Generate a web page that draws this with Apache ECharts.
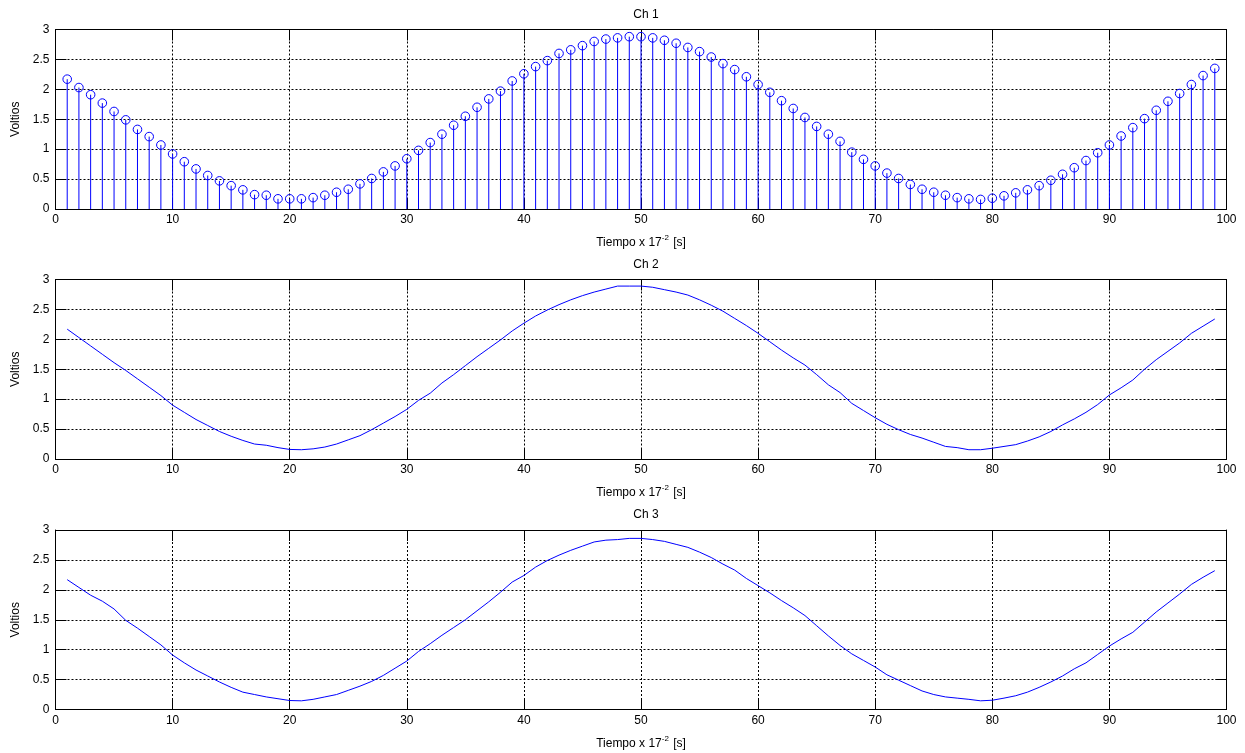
<!DOCTYPE html>
<html>
<head>
<meta charset="utf-8">
<script src="https://cdn.jsdelivr.net/npm/echarts@6/dist/echarts.min.js"></script>
<style>
  html, body { margin: 0; padding: 0; background: #ffffff; }
  #chart { width: 1245px; height: 753px; }
</style>
</head>
<body>
<div id="chart"></div>
<script>
// Sample index (1..99) shared by the three channels
const samples = Array.from({ length: 99 }, (_, i) => i + 1);

// Channel 1 readings (V)
const ch1 = [
  2.17, 2.03, 1.91, 1.77, 1.63, 1.49, 1.33, 1.21, 1.07, 0.92,
  0.79, 0.67, 0.56, 0.47, 0.39, 0.32, 0.24, 0.23, 0.17, 0.17,
  0.17, 0.19, 0.23, 0.28, 0.33, 0.42, 0.51, 0.62, 0.72, 0.84,
  0.98, 1.11, 1.25, 1.40, 1.55, 1.70, 1.84, 1.97, 2.14, 2.26,
  2.38, 2.48, 2.60, 2.66, 2.73, 2.80, 2.84, 2.86, 2.88, 2.88,
  2.86, 2.82, 2.77, 2.70, 2.63, 2.54, 2.43, 2.33, 2.21, 2.08,
  1.95, 1.81, 1.68, 1.53, 1.38, 1.25, 1.13, 0.95, 0.83, 0.72,
  0.60, 0.51, 0.41, 0.33, 0.28, 0.23, 0.19, 0.17, 0.16, 0.18,
  0.22, 0.27, 0.32, 0.39, 0.48, 0.58, 0.69, 0.81, 0.94, 1.07,
  1.22, 1.36, 1.51, 1.65, 1.80, 1.93, 2.08, 2.23, 2.35
];

// Channel 2 readings (V)
const ch2 = [
  2.17, 2.03, 1.89, 1.75, 1.61, 1.48, 1.34, 1.20, 1.06, 0.90,
  0.78, 0.66, 0.56, 0.46, 0.38, 0.31, 0.25, 0.23, 0.19, 0.16,
  0.155, 0.17, 0.20, 0.25, 0.32, 0.39, 0.49, 0.60, 0.71, 0.83,
  0.98, 1.10, 1.27, 1.41, 1.56, 1.71, 1.85, 1.99, 2.14, 2.27,
  2.39, 2.49, 2.58, 2.66, 2.73, 2.79, 2.84, 2.89, 2.89, 2.89,
  2.87, 2.83, 2.79, 2.74, 2.66, 2.57, 2.47, 2.35, 2.23, 2.10,
  1.96, 1.82, 1.69, 1.57, 1.41, 1.24, 1.11, 0.93, 0.81, 0.69,
  0.58, 0.49, 0.41, 0.35, 0.28, 0.21, 0.19, 0.155, 0.155, 0.18,
  0.21, 0.24, 0.30, 0.37, 0.46, 0.57, 0.67, 0.78, 0.91, 1.07,
  1.19, 1.32, 1.50, 1.66, 1.80, 1.94, 2.10, 2.22, 2.34
];

// Channel 3 readings (V)
const ch3 = [
  2.17, 2.04, 1.91, 1.81, 1.68, 1.49, 1.36, 1.22, 1.08, 0.91,
  0.78, 0.66, 0.56, 0.46, 0.37, 0.29, 0.25, 0.21, 0.18, 0.15,
  0.145, 0.17, 0.21, 0.25, 0.32, 0.39, 0.47, 0.57, 0.69, 0.81,
  0.97, 1.10, 1.24, 1.37, 1.50, 1.65, 1.80, 1.96, 2.13, 2.24,
  2.38, 2.49, 2.58, 2.66, 2.73, 2.80, 2.83, 2.84, 2.86, 2.86,
  2.84, 2.81, 2.76, 2.71, 2.63, 2.54, 2.43, 2.33, 2.19, 2.07,
  1.95, 1.82, 1.70, 1.57, 1.40, 1.23, 1.07, 0.93, 0.82, 0.71,
  0.58, 0.49, 0.40, 0.31, 0.25, 0.21, 0.19, 0.17, 0.145, 0.155,
  0.19, 0.23, 0.29, 0.37, 0.46, 0.56, 0.68, 0.78, 0.92, 1.06,
  1.18, 1.29, 1.46, 1.63, 1.78, 1.93, 2.09, 2.21, 2.32
];

const panelTitles = ['Ch 1', 'Ch 2', 'Ch 3'];
const yTickLabels = ['0', '0.5', '1', '1.5', '2', '2.5', '3'];

const FONT = '"Liberation Sans", Arial, Helvetica, sans-serif';
const BLUE = '#0000ff';
const panelTops = [29.5, 279.5, 530];
const panelHeight = 179.5;
const gridDash = [2, 2];

const chart = echarts.init(document.getElementById('chart'), null, { renderer: 'canvas' });

const grids = [], xAxes = [], yAxes = [], titles = [];

panelTops.forEach((top, i) => {
  grids.push({ left: 55.5, right: 18.5, top: top, height: panelHeight, containLabel: false });

  titles.push({
    text: panelTitles[i],
    left: 641, top: top - 26, textAlign: 'center',
    textStyle: { fontFamily: FONT, fontSize: 12, fontWeight: 'normal', color: '#000' }
  });

  const boxLine = { show: true, onZero: false, lineStyle: { color: '#000', width: 1 } };
  const tick = { show: true, inside: true, length: 11, lineStyle: { color: '#000', width: 1 } };

  xAxes.push({
    gridIndex: i, type: 'value', position: 'bottom',
    min: 0, max: 100, interval: 10,
    axisLine: boxLine, axisTick: tick,
    axisLabel: { color: '#000', fontFamily: FONT, fontSize: 12, margin: 5 },
    splitLine: { show: true, lineStyle: { color: '#000', type: gridDash, width: 1 } },
    name: '{a|Tiempo x 17}{s|-2}{a| [s]}',
    nameLocation: 'middle', nameGap: 25,
    nameTextStyle: {
      rich: {
        a: { fontFamily: FONT, fontSize: 12, color: '#000', lineHeight: 15, verticalAlign: 'bottom' },
        s: { fontFamily: FONT, fontSize: 8, color: '#000', lineHeight: 15, verticalAlign: 'top', padding: [0, 1, 0, 0] }
      }
    }
  });
  xAxes.push({
    gridIndex: i, type: 'value', position: 'top',
    min: 0, max: 100, interval: 10,
    axisLine: boxLine, axisTick: tick,
    axisLabel: { show: false }, splitLine: { show: false }
  });

  yAxes.push({
    gridIndex: i, type: 'value', position: 'left',
    min: 0, max: 3, interval: 0.5,
    axisLine: boxLine, axisTick: tick,
    axisLabel: {
      color: '#000', fontFamily: FONT, fontSize: 12, margin: 6,
      formatter: (v) => yTickLabels[Math.round(v / 0.5)]
    },
    splitLine: { show: true, lineStyle: { color: '#000', type: gridDash, width: 1 } },
    name: 'Voltios', nameLocation: 'middle', nameGap: 32, nameRotate: 90,
    nameTextStyle: { fontFamily: FONT, fontSize: 12, color: '#000' }
  });
  yAxes.push({
    gridIndex: i, type: 'value', position: 'right',
    min: 0, max: 3, interval: 0.5,
    axisLine: boxLine, axisTick: tick,
    axisLabel: { show: false }, splitLine: { show: false }
  });
});

// Stem plot: vertical line from zero to the sample plus a hollow circle
function renderStem(params, api) {
  const x = api.value(0), y = api.value(1);
  const base = api.coord([x, 0]);
  const tip = api.coord([x, y]);
  return {
    type: 'group',
    children: [
      { type: 'line', shape: { x1: base[0], y1: base[1], x2: tip[0], y2: tip[1] },
        style: { stroke: BLUE, lineWidth: 1 } },
      { type: 'circle', shape: { cx: tip[0], cy: tip[1], r: 4.3 },
        style: { fill: null, stroke: BLUE, lineWidth: 1 } }
    ]
  };
}

const pairs = (arr) => samples.map((x, i) => [x, arr[i]]);

chart.setOption({
  animation: false,
  backgroundColor: '#ffffff',
  title: titles,
  grid: grids,
  xAxis: xAxes,
  yAxis: yAxes,
  series: [
    { type: 'custom', name: 'Ch 1', xAxisIndex: 0, yAxisIndex: 0,
      renderItem: renderStem, data: pairs(ch1), z: 5 },
    { type: 'line', name: 'Ch 2', xAxisIndex: 2, yAxisIndex: 2,
      data: pairs(ch2), showSymbol: false, symbol: 'none',
      lineStyle: { color: BLUE, width: 1 }, z: 5 },
    { type: 'line', name: 'Ch 3', xAxisIndex: 4, yAxisIndex: 4,
      data: pairs(ch3), showSymbol: false, symbol: 'none',
      lineStyle: { color: BLUE, width: 1 }, z: 5 }
  ]
});
</script>
</body>
</html>
